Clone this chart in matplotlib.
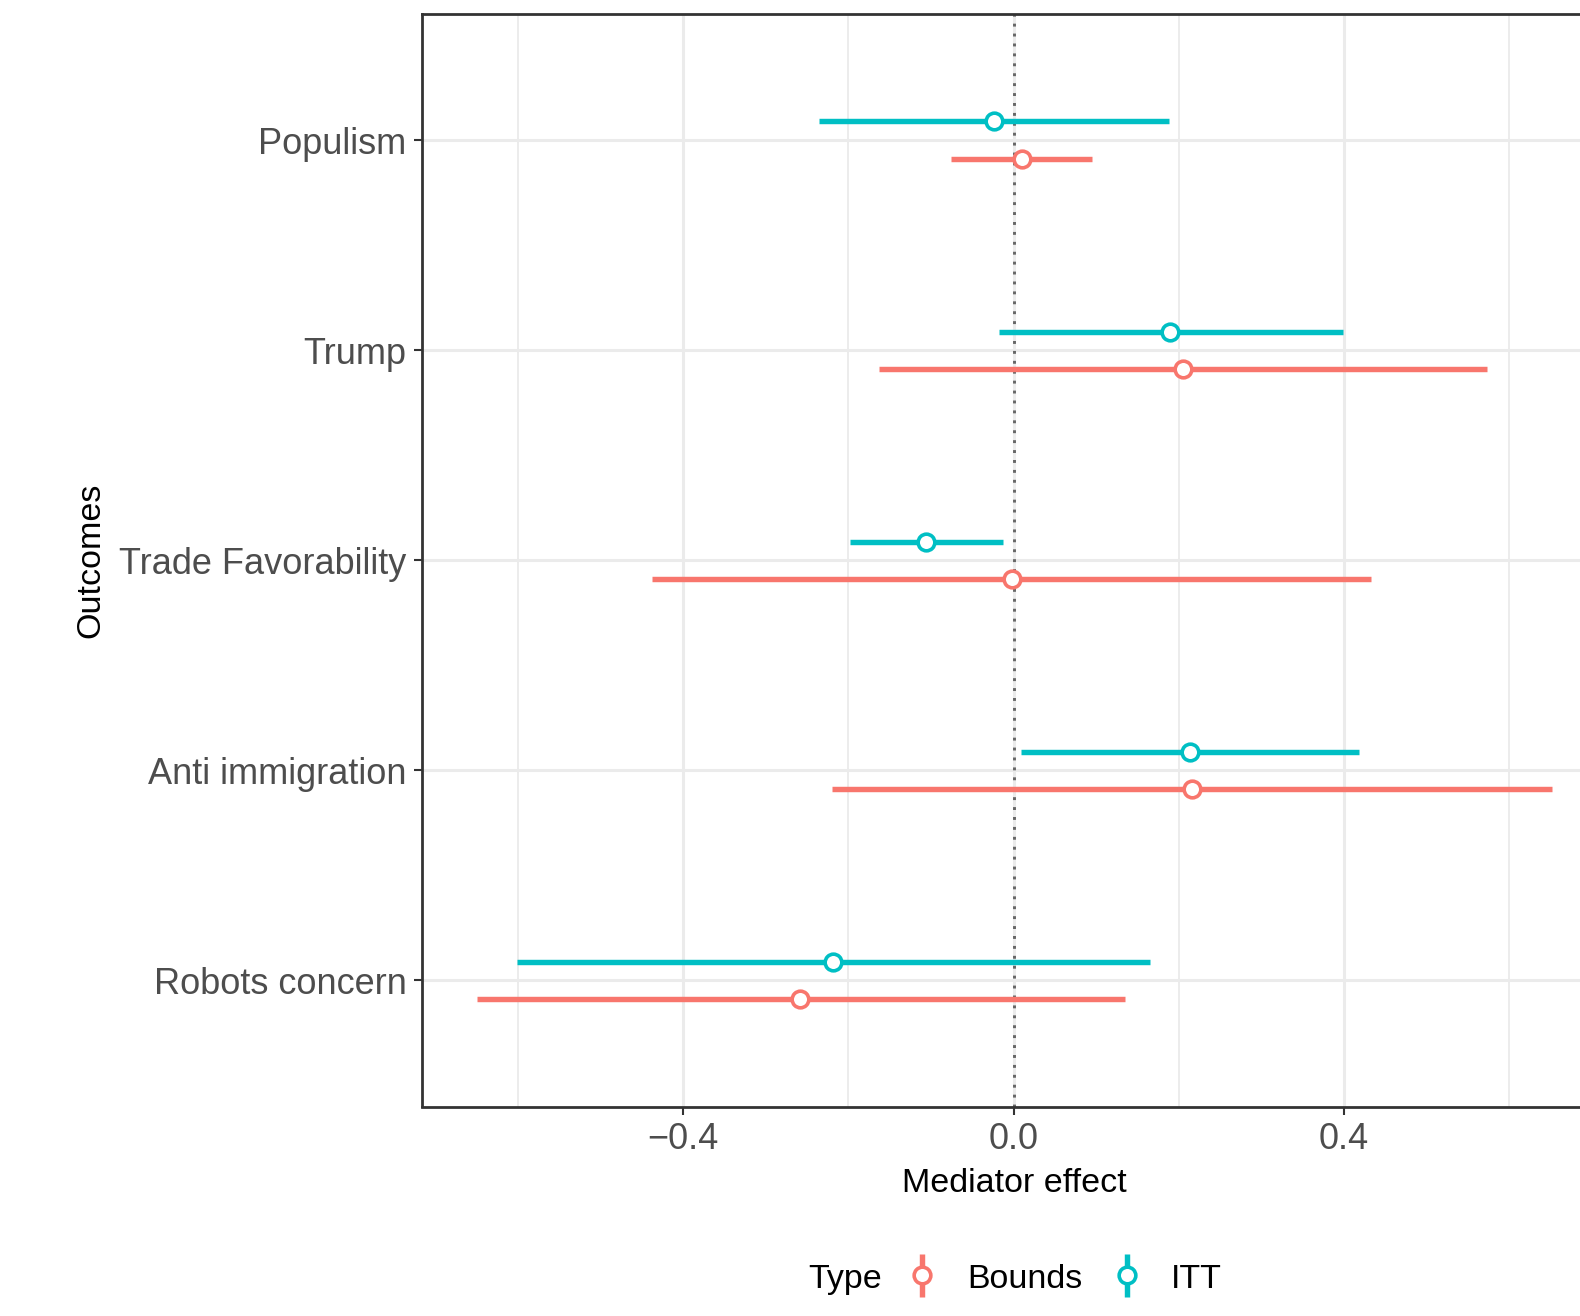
import numpy as np
import matplotlib
matplotlib.use('Agg')
import matplotlib.pyplot as plt
from matplotlib.lines import Line2D

plt.rcParams['font.family'] = ['Liberation Sans', 'DejaVu Sans']

outcomes = ['Populism', 'Trump', 'Trade Favorability', 'Anti immigration', 'Robots concern']
itt_est = [-0.024, 0.189, -0.106, 0.213, -0.218]
itt_lo = [-0.235, -0.018, -0.198, 0.009, -0.601]
itt_hi = [0.188, 0.399, -0.013, 0.418, 0.165]
bnd_est = [0.010, 0.205, -0.002, 0.216, -0.259]
bnd_lo = [-0.076, -0.163, -0.438, -0.220, -0.650]
bnd_hi = [0.095, 0.573, 0.433, 0.652, 0.135]
xticks = [-0.4, 0.0, 0.4]
xticklabels = ['\u22120.4', '0.0', '0.4']
xminor = [-0.6, -0.2, 0.2, 0.6]
types = ['Bounds', 'ITT']

red = '#F8766D'
teal = '#00BFC4'
lw_bar = 3.9
ms_pt = 12
mew_pt = 2.6

W, H = 1580, 1316
fig = plt.figure(figsize=(W / 100, H / 100), dpi=100)
ax = fig.add_axes([422 / W, 1 - 1106.5 / H, (1606 - 422) / W, (1106.5 - 14) / H])

ypos = np.arange(len(outcomes))[::-1] + 1.0
dodge = 0.0885

def pointrange(est, lo, hi, y, c):
    ax.hlines(y, lo, hi, color=c, lw=lw_bar, zorder=3, capstyle='butt')
    ax.plot(est, y, 'o', ms=ms_pt, mfc='white', mec=c, mew=mew_pt, ls='', zorder=4)

pointrange(itt_est, itt_lo, itt_hi, ypos + dodge, teal)
pointrange(bnd_est, bnd_lo, bnd_hi, ypos - dodge, red)

ax.axvline(0, color='#666666', lw=2.1, ls=(0, (1, 2.4)), zorder=2)

ax.set_xlim(-0.716, 0.717)
ax.set_ylim(0.4, 5.6)
ax.set_xticks(xticks)
ax.set_xticklabels(xticklabels)
ax.set_xticks(xminor, minor=True)
ax.set_yticks(ypos)
ax.set_yticklabels(outcomes)
ax.grid(True, which='major', color='#EBEBEB', lw=2.2, zorder=0)
ax.grid(True, which='minor', axis='x', color='#EBEBEB', lw=1.3, zorder=0)
ax.set_axisbelow(True)
ax.tick_params(which='major', length=6, width=1.5, color='#333333',
               labelsize=26, labelcolor='#4D4D4D', pad=5)
ax.tick_params(which='minor', length=0)
for s in ax.spines.values():
    s.set_color('#333333')
    s.set_linewidth(2.0)

ax.set_xlabel('Mediator effect', fontsize=24.5, color='black', labelpad=8)
fig.text(91 / W, 1 - 560 / H, 'Outcomes', rotation=90, fontsize=24.5,
         ha='center', va='center')

# legend drawn by hand, ggplot style: title on the left, keys in a row
base = 1 - 1288 / H
fig.text(808 / W, base, 'Type', fontsize=24.5, ha='left', va='baseline')
key_x = [922, 1127]
text_x = [967, 1171]
for c, t, kx, tx in zip([red, teal], types, key_x, text_x):
    fig.add_artist(Line2D([kx / W, kx / W], [1 - 1254 / H, 1 - 1297 / H],
                          transform=fig.transFigure, color=c, lw=lw_bar,
                          solid_capstyle='butt'))
    fig.add_artist(Line2D([kx / W], [1 - 1275 / H], transform=fig.transFigure,
                          marker='o', ms=ms_pt, mfc='white', mec=c, mew=mew_pt, ls=''))
    fig.text(tx / W, base, t, fontsize=24.5, ha='left', va='baseline')

fig.savefig('out.png', dpi=100)
